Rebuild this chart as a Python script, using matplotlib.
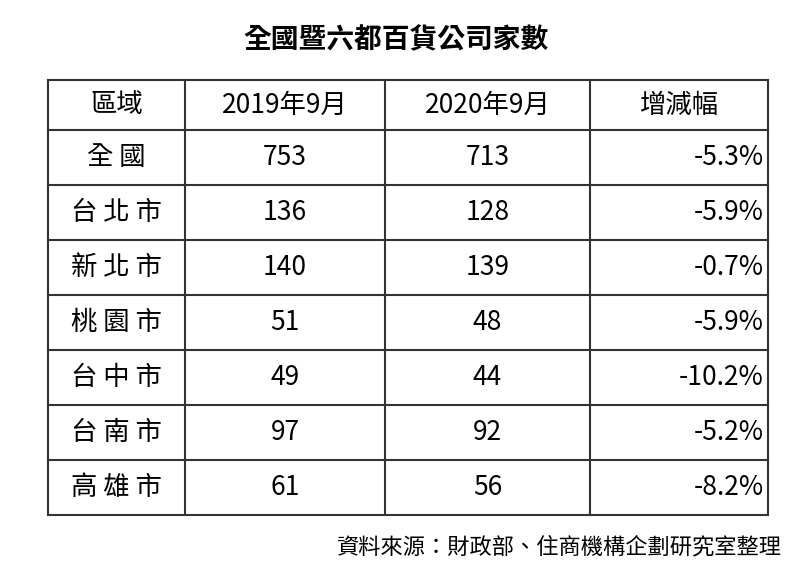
import matplotlib
matplotlib.use("Agg")
import matplotlib.pyplot as plt

title = "全國暨六都百貨公司家數"
headers = ["區域", "2019年9月", "2020年9月", "增減幅"]
regions = ["全國", "台北市", "新北市", "桃園市", "台中市", "台南市", "高雄市"]
y2019 = [753, 136, 140, 51, 49, 97, 61]
y2020 = [713, 128, 139, 48, 44, 92, 56]
change = ["-5.3%", "-5.9%", "-0.7%", "-5.9%", "-10.2%", "-5.2%", "-8.2%"]
source = "資料來源：財政部、住商機構企劃研究室整理"

FONT = ["Noto Sans CJK TC", "DejaVu Sans"]

fig = plt.figure(figsize=(7.92, 5.78), dpi=100)
ax = fig.add_axes([0, 0, 1, 1])
ax.set_xlim(0, 792)
ax.set_ylim(578, 0)
ax.axis("off")

col_x = [48, 185, 385, 590, 768]
top, header_h, row_h = 80, 50, 55
row_y = [top, top + header_h] + [top + header_h + row_h * (i + 1) for i in range(len(regions))]

for x in col_x:
    ax.plot([x, x], [row_y[0], row_y[-1]], color="#333333", lw=1.5)
for y in row_y:
    ax.plot([col_x[0], col_x[-1]], [y, y], color="#333333", lw=1.5)

ax.text(396, 40, title, ha="center", va="center", fontsize=20, fontweight="bold", family=FONT)

def cell(r, c, s):
    y0, y1 = row_y[r], row_y[r + 1]
    cy = (y0 + y1) / 2
    if c == 3 and r > 0:
        ax.text(col_x[4] - 4, cy, s, ha="right", va="center", fontsize=19, family=FONT)
    else:
        ax.text((col_x[c] + col_x[c + 1]) / 2, cy, s, ha="center", va="center", fontsize=19, family=FONT)

for c, h in enumerate(headers):
    cell(0, c, h)
for i, reg in enumerate(regions):
    cell(i + 1, 0, "\u2009".join(reg) if False else " ".join(reg))
    cell(i + 1, 1, str(y2019[i]))
    cell(i + 1, 2, str(y2020[i]))
    cell(i + 1, 3, change[i])

ax.text(782, 547, source, ha="right", va="center", fontsize=16, family=FONT)

fig.savefig("out.png", dpi=100)
